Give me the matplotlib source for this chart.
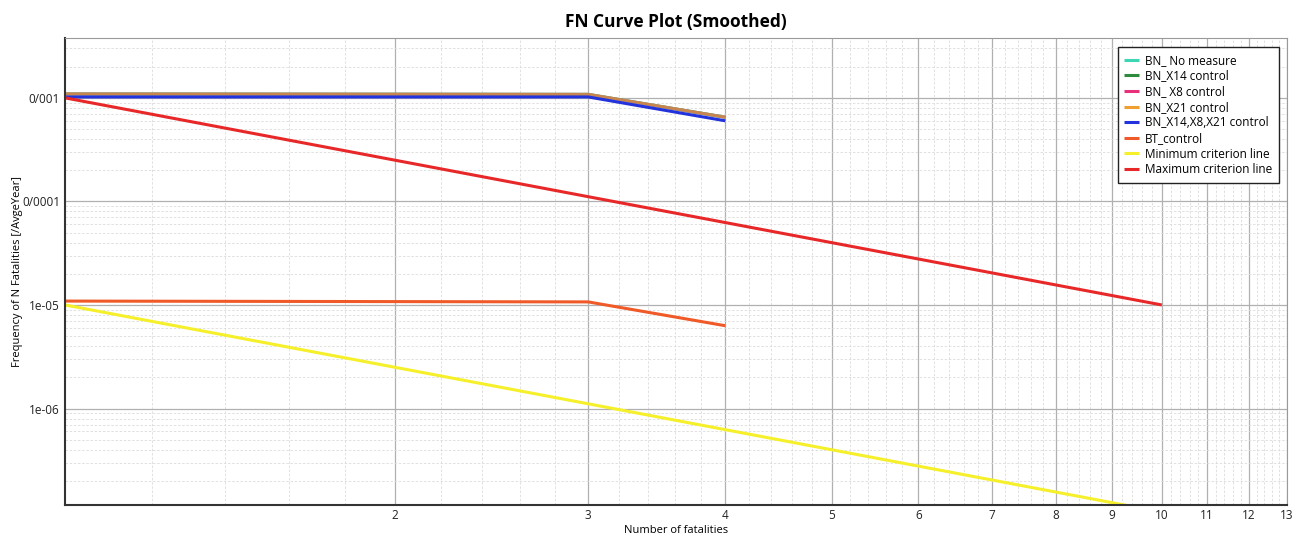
import matplotlib
matplotlib.use("Agg")
import matplotlib.pyplot as plt
from matplotlib.ticker import FixedLocator, NullFormatter
import numpy as np

plt.rcParams['font.family'] = ['Open Sans', 'DejaVu Sans']

# Data
n_bn = [1, 3, 4]
bn_no_measure = [1.09e-3, 1.08e-3, 6.5e-4]
bn_x14 = [1.09e-3, 1.08e-3, 6.5e-4]
bn_x8 = [1.09e-3, 1.08e-3, 6.5e-4]
bn_x21 = [1.09e-3, 1.08e-3, 6.5e-4]
bn_all = [1.02e-3, 1.02e-3, 6.0e-4]
bt_control = [1.09e-5, 1.07e-5, 6.3e-6]

n_crit = [1, 3, 10]
min_crit = [1e-5, 1.11e-6, 1e-7]
max_crit = [1e-3, 1.11e-4, 1e-5]

x_ticks = [2, 3, 4, 5, 6, 7, 8, 9, 10, 11, 12, 13]
y_ticks = [1e-3, 1e-4, 1e-5, 1e-6]
y_labels = ['0/001', '0/0001', '1e-05', '1e-06']

series = [
    ('BN_ No measure', n_bn, bn_no_measure, '#3CD6B4'),
    ('BN_X14 control', n_bn, bn_x14, '#2E8B3E'),
    ('BN_ X8 control', n_bn, bn_x8, '#E8317A'),
    ('BN_X21 control', n_bn, bn_x21, '#F0A030'),
    ('BN_X14,X8,X21 control', n_bn, bn_all, '#2233DD'),
    ('BT_control', n_bn, bt_control, '#F05A28'),
    ('Minimum criterion line', n_crit, min_crit, '#F5F02A'),
    ('Maximum criterion line', n_crit, max_crit, '#E82828'),
]

fig = plt.figure(figsize=(13.04, 5.37), dpi=100)
ax = fig.add_axes([0.0498, 0.0596, 0.937, 0.870])

for label, xs, ys, col in series:
    alpha = 0.55 if label in ('BN_X14 control', 'BN_ X8 control', 'BN_X21 control') else 1.0
    ax.plot(xs, ys, color=col, lw=2.2, label=label, alpha=alpha, solid_capstyle='butt')

ax.set_xscale('log')
ax.set_yscale('log')
ax.set_xlim(1, 13)
ax.set_ylim(1.17e-7, 3.8e-3)

ax.xaxis.set_major_locator(FixedLocator(x_ticks))
ax.set_xticklabels([str(t) for t in x_ticks])
minor_x = [v for v in np.arange(1.2, 13.0, 0.2) if abs(v - round(v)) > 1e-6]
ax.xaxis.set_minor_locator(FixedLocator(minor_x))
ax.xaxis.set_minor_formatter(NullFormatter())

ax.yaxis.set_major_locator(FixedLocator(y_ticks))
ax.set_yticklabels(y_labels)
minor_y = [m * 10.0 ** e for e in range(-8, -2) for m in range(2, 10)]
ax.yaxis.set_minor_locator(FixedLocator(minor_y))
ax.yaxis.set_minor_formatter(NullFormatter())

ax.tick_params(which='both', length=0, labelsize=8.5, colors='#222222')
ax.tick_params(axis='x', pad=3)
ax.grid(which='major', color='#b0b0b0', lw=0.9, ls='-')
ax.grid(which='minor', color='#dcdcdc', lw=0.6, ls=(0, (3, 2)))
ax.set_axisbelow(True)

for side in ['top', 'right']:
    ax.spines[side].set_color('#9a9a9a')
    ax.spines[side].set_linewidth(0.8)
for side in ['left', 'bottom']:
    ax.spines[side].set_color('#333333')
    ax.spines[side].set_linewidth(1.5)

ax.set_title('FN Curve Plot (Smoothed)', fontsize=12.5, fontweight='bold', pad=8)
ax.set_xlabel('Number of fatalities', fontsize=8, labelpad=2)
ax.set_ylabel('Frequency of N Fatalities [/AvgeYear]', fontsize=8)
ax.yaxis.set_label_coords(-0.0344, 0.5)

leg = ax.legend(loc='upper right', bbox_to_anchor=(0.9985, 0.992), fontsize=8.5,
                frameon=True, fancybox=False, edgecolor='#222222', framealpha=1,
                handlelength=1.3, handletextpad=0.5, labelspacing=0.22, borderpad=0.55)
leg.get_frame().set_linewidth(1.0)
for h in leg.get_lines():
    h.set_alpha(1.0)

fig.savefig('out.png', dpi=100)
